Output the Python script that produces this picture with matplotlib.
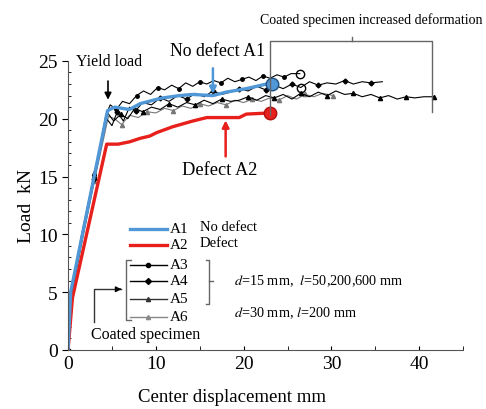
import numpy as np
import matplotlib
matplotlib.use("Agg")
import matplotlib.pyplot as plt
from matplotlib.ticker import MultipleLocator

plt.rcParams['font.family'] = ['Liberation Serif', 'DejaVu Serif']
plt.rcParams['mathtext.fontset'] = 'stix'

# A1: no defect (blue)
a1_x = [0, 0.3, 4.5, 5.3, 7.0, 8.2, 9.7, 10.8, 12.7, 14.2, 16.5, 18.0, 20.3, 22.6, 23.2]
a1_y = [0, 5.0, 20.7, 21.0, 20.8, 21.3, 21.6, 21.8, 22.0, 22.1, 22.0, 22.3, 22.6, 23.0, 23.0]
# A2: defect (red)
a2_x = [0, 0.5, 4.4, 5.7, 7.0, 8.2, 9.3, 10.1, 11.9, 14.2, 15.8, 18.0, 19.5, 20.3, 23.0]
a2_y = [0, 4.5, 17.8, 17.8, 18.0, 18.3, 18.5, 18.8, 19.3, 19.8, 20.1, 20.1, 20.1, 20.4, 20.5]
# A3-A6: coated specimens (black / grey)
a3_x = [0, 0.4, 1.5, 3.0, 4.3, 4.8, 5.5, 6.2, 7.0, 7.8, 8.6, 9.4, 10.2, 11.0, 11.8, 12.6, 13.4,
        14.2, 15.0, 15.8, 16.6, 17.4, 18.2, 19.0, 19.8, 20.6, 21.4, 22.2, 23.0, 23.8, 24.6, 25.4, 26.4]
a3_y = [0, 5.0, 9.5, 15.0, 20.3, 21.2, 20.8, 21.5, 21.3, 22.0, 22.4, 22.1, 22.7, 22.5, 22.9, 22.6, 23.1,
        22.8, 23.2, 23.0, 23.3, 23.1, 23.5, 23.2, 23.4, 23.6, 23.3, 23.7, 23.5, 23.8, 23.6, 23.9, 23.9]
a4_x = [0, 0.4, 1.5, 3, 4.4, 5.0, 5.6, 6.3, 7.0, 7.7, 8.5, 9.5, 10.5, 11.5, 12.5, 13.5, 14.5, 15.5,
        16.5, 17.5, 18.5, 19.5, 20.5, 21.5, 22.5, 23.5, 24.5, 25.5, 26.5, 27.5, 28.5, 29.5, 30.5,
        31.5, 32.5, 33.5, 34.5, 35.8]
a4_y = [0, 4.8, 9.2, 14.8, 20.0, 19.4, 20.6, 19.8, 21.0, 20.7, 21.4, 21.2, 21.8, 21.5, 22.0, 21.7, 22.2, 21.9,
        22.4, 22.1, 22.3, 22.6, 22.4, 22.8, 22.5, 22.9, 22.6, 23.0, 22.7, 23.2, 22.9, 23.1, 23.0,
        23.3, 23.0, 23.2, 23.1, 23.2]
a5_x = [0, 0.4, 1.5, 3, 4.5, 5.2, 6, 6.8, 7.6, 8.5, 9.5, 10.5, 11.5, 12.5, 13.5, 14.5, 15.5, 16.5,
        17.5, 18.5, 19.5, 20.5, 21.5, 22.5, 23.5, 24.5, 25.5, 26.5, 27.5, 28.5, 29.5, 30.5, 31.5,
        32.5, 33.5, 34.5, 35.5, 36.5, 37.5, 38.5, 39.5, 40.5, 41.7]
a5_y = [0, 5.2, 9.8, 15.3, 20.5, 19.8, 20.4, 20.0, 20.9, 20.6, 21.0, 20.8, 21.3, 21.0, 21.4, 21.2, 21.6, 21.3,
        21.7, 21.5, 21.6, 21.9, 21.6, 22.0, 21.8, 22.1, 21.7, 22.2, 21.9, 22.3, 22.0, 22.4, 22.1,
        22.2, 21.9, 22.1, 21.8, 22.0, 21.7, 21.9, 21.8, 21.9, 21.9]
a6_x = [0, 0.4, 1.5, 3, 4.6, 5.3, 6.1, 7.0, 8.0, 9.0, 10, 11, 12, 13, 14, 15, 16, 17, 18, 19, 20,
        21, 22, 23, 24, 25, 26, 27, 28, 29, 30.2]
a6_y = [0, 4.6, 9.0, 14.6, 20.2, 20.0, 19.5, 20.3, 20.1, 20.6, 20.5, 20.9, 20.7, 21.1, 20.9, 21.3, 21.1,
        21.4, 21.2, 21.6, 21.4, 21.7, 21.5, 21.8, 21.6, 22.0, 21.7, 22.1, 21.9, 22.2, 22.0]

blue = '#4f97d6'
red = '#e8201c'

fig = plt.figure(figsize=(4.86, 4.10), dpi=100)
ax = fig.add_axes([0.140, 0.144, 0.813, 0.705])

ax.plot(a6_x, a6_y, color='#777777', lw=0.8, marker='^', ms=3, markevery=3)
ax.plot(a5_x, a5_y, color='black', lw=0.8, marker='^', ms=3, markevery=3)
ax.plot(a4_x, a4_y, color='black', lw=0.8, marker='D', ms=2.5, markevery=3)
ax.plot(a3_x, a3_y, color='black', lw=0.8, marker='o', ms=2.5, markevery=3)
ax.plot(a3_x[-1], a3_y[-1], 'o', mfc='none', mec='black', ms=6)
ax.plot(a4_x[-10], a4_y[-10], 'o', mfc='none', mec='black', ms=6)

ax.plot(a2_x, a2_y, color=red, lw=2.4, solid_capstyle='round')
ax.plot(a2_x[-1], a2_y[-1], 'o', color=red, mec='#b01010', ms=9)
ax.plot(a1_x, a1_y, color=blue, lw=2.4, solid_capstyle='round')
ax.plot(a1_x[-1], a1_y[-1], 'o', color=blue, mec='#1f4f80', ms=9)

ax.set_xlim(0, 45)
ax.set_ylim(0, 25)
ax.xaxis.set_major_locator(MultipleLocator(10))
ax.xaxis.set_minor_locator(MultipleLocator(5))
ax.yaxis.set_major_locator(MultipleLocator(5))
ax.yaxis.set_minor_locator(MultipleLocator(1))
ax.tick_params(axis='x', which='both', direction='in', labelsize=14, length=3)
ax.tick_params(axis='y', which='major', direction='out', labelsize=14, length=4)
ax.tick_params(axis='y', which='minor', direction='in', length=2)
for s in ['top', 'right']:
    ax.spines[s].set_visible(False)
for s in ['left', 'bottom']:
    ax.spines[s].set_color('#555555')
ax.set_xlabel('Center displacement mm', fontsize=13.5, labelpad=1)
ax.xaxis.set_label_coords(0.415, -0.13)
ax.set_ylabel('Load  kN', fontsize=14, labelpad=2)

# annotations
ax.text(4.65, 25.0, 'Yield load', fontsize=11.5, ha='center', va='center', clip_on=False)
ax.annotate('', xy=(4.55, 21.4), xytext=(4.55, 23.5),
            arrowprops=dict(arrowstyle='-|>', color='black', lw=1.2, mutation_scale=10))
ax.text(17.0, 25.9, 'No defect A1', fontsize=12.8, ha='center', va='center', clip_on=False)
ax.annotate('', xy=(16.5, 21.9), xytext=(16.5, 24.6),
            arrowprops=dict(arrowstyle='-|>', color=blue, lw=1.8, mutation_scale=10))
ax.text(17.3, 15.6, 'Defect A2', fontsize=13.2, ha='center', va='center')
ax.annotate('', xy=(17.95, 20.1), xytext=(17.95, 16.5),
            arrowprops=dict(arrowstyle='-|>', color=red, lw=1.8, mutation_scale=10))

# bracket for increased deformation
gray = '#666666'
ax.plot([23.0, 23.0, 41.4, 41.4], [20.3, 26.7, 26.7, 20.6], color=gray, lw=1.0, clip_on=False)
ax.plot([32.3, 32.3], [26.7, 27.1], color=gray, lw=1.0, clip_on=False)
ax.text(34.5, 28.6, 'Coated specimen increased deformation', fontsize=10,
        ha='center', va='center', clip_on=False)

# custom legend
lx0, lx1, lxt = 7.05, 11.25, 11.6
ax.plot([lx0, lx1], [10.47, 10.47], color=blue, lw=2.4)
ax.plot([lx0, lx1], [9.08, 9.08], color=red, lw=2.4)
leg_rows = [('A3', 7.38, 'o', 'black'), ('A4', 6.0, 'D', 'black'),
            ('A5', 4.41, '^', '#333333'), ('A6', 2.88, '^', '#888888')]
for name, yy, mk, c in leg_rows:
    ax.plot([lx0, lx1], [yy, yy], color=c, lw=1.0)
    ax.plot([(lx0 + lx1) / 2], [yy], marker=mk, color=c, ms=3)
    ax.text(lxt, yy, name, fontsize=11, va='center')
ax.text(lxt, 10.47, 'A1', fontsize=11, va='center')
ax.text(lxt, 9.08, 'A2', fontsize=11, va='center')
ax.text(15.0, 10.7, 'No defect', fontsize=10.5, va='center')
ax.text(15.0, 9.3, 'Defect', fontsize=10.5, va='center')
# brackets
ax.plot([7.15, 6.65, 6.65, 7.15], [7.8, 7.8, 2.6, 2.6], color=gray, lw=1.0)
ax.plot([15.7, 16.1, 16.1, 15.7], [7.8, 7.8, 4.0, 4.0], color=gray, lw=1.0)
ax.plot([16.1, 16.5], [6.0, 6.0], color=gray, lw=1.0)
ax.text(18.9, 6.0, r'$d$=15 mm,  $l$=50,200,600 mm', fontsize=10.3, va='center')
ax.text(18.9, 3.28, r'$d$=30 mm, $l$=200 mm', fontsize=10.3, va='center')
ax.plot([2.9, 2.9, 6.0], [2.4, 5.25, 5.25], color='#333333', lw=1.0)
ax.annotate('', xy=(6.4, 5.25), xytext=(5.6, 5.25),
            arrowprops=dict(arrowstyle='-|>', color='black', lw=1.0, mutation_scale=8))
ax.text(2.6, 1.4, 'Coated specimen', fontsize=11.5, va='center')

fig.savefig('out.png', dpi=100)
